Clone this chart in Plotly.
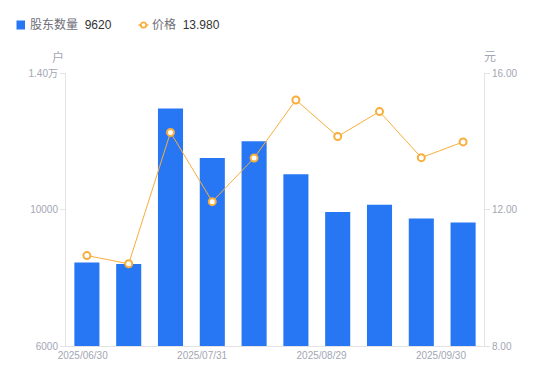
import plotly.graph_objects as go

# ---- data ----
dates = ["2025/06/30", "2025/07/10", "2025/07/20", "2025/07/31", "2025/08/10",
         "2025/08/20", "2025/08/29", "2025/09/10", "2025/09/19", "2025/09/30"]
holders = [8450, 8400, 12960, 11510, 12000, 11030, 9930, 10140, 9735, 9620]
prices = [10.65, 10.41, 14.26, 12.23, 13.51, 15.21, 14.14, 14.87, 13.52, 13.98]
shown_date_labels = ["2025/06/30", "2025/07/31", "2025/08/29", "2025/09/30"]
left_ticks = [6000, 10000, 14000]
left_ticktext = ["6000", "10000", "1.40万"]
right_ticks = [8, 12, 16]
series_names = ["股东数量", "价格"]

idx = list(range(len(dates)))
n = len(dates)
label_pos = [-0.1 + k * (n - 1 - 0.43) / 3 for k in range(len(shown_date_labels))]

W, H = 550, 381
ML, MR, MT, MB = 66, 66, 73, 35
PW, PH = W - ML - MR, H - MT - MB


def px(xp):
    return (xp - ML) / PW


def py(yp):
    return (H - MB - yp) / PH


BLUE = "#2777f5"
ORANGE = "#f8ae3c"
TICK = "#a3a6b4"
AXIS = "#e3e3e6"
FONT = "Liberation Sans, Noto Sans CJK SC, sans-serif"

fig = go.Figure()
fig.add_trace(go.Bar(
    x=idx, y=holders, width=0.6,
    marker=dict(color=BLUE, line=dict(width=0)),
    name=series_names[0], yaxis="y",
))
fig.add_trace(go.Scatter(
    x=idx, y=prices, mode="lines+markers",
    line=dict(color=ORANGE, width=1),
    marker=dict(symbol="circle", size=7, color="white",
                line=dict(color=ORANGE, width=2)),
    name=series_names[1], yaxis="y2",
))

legend_y = 25
shapes = [
    # bar legend swatch
    dict(type="rect", xref="paper", yref="paper",
         x0=px(16.5), x1=px(25), y0=py(legend_y - 4.5), y1=py(legend_y + 4.5),
         fillcolor=BLUE, line=dict(width=0)),
    # line legend glyph
    dict(type="line", xref="paper", yref="paper",
         x0=px(138.5), x1=px(148.5), y0=py(legend_y), y1=py(legend_y),
         line=dict(color=ORANGE, width=1.5)),
    dict(type="circle", xref="paper", yref="paper",
         x0=px(140.8), x1=px(146.2), y0=py(legend_y - 2.7), y1=py(legend_y + 2.7),
         fillcolor="white", line=dict(color=ORANGE, width=1.8)),
]

annotations = [
    dict(text=f"{series_names[0]}  <span style='color:#333'>{holders[-1]}</span>",
         xref="paper", yref="paper", x=px(28), y=py(legend_y),
         xanchor="left", yanchor="middle", showarrow=False,
         font=dict(size=12, color="#6e6e78")),
    dict(text=f"{series_names[1]}  <span style='color:#333'>{prices[-1]:.3f}</span>",
         xref="paper", yref="paper", x=px(150), y=py(legend_y),
         xanchor="left", yanchor="middle", showarrow=False,
         font=dict(size=12, color="#6e6e78")),
    dict(text="户", xref="paper", yref="paper", x=px(58), y=py(57),
         xanchor="center", yanchor="middle", showarrow=False,
         font=dict(size=12, color=TICK)),
    dict(text="元", xref="paper", yref="paper", x=px(490), y=py(57),
         xanchor="center", yanchor="middle", showarrow=False,
         font=dict(size=12, color=TICK)),
]

fig.update_layout(
    width=W, height=H,
    margin=dict(l=ML, r=MR, t=MT, b=MB),
    paper_bgcolor="white", plot_bgcolor="white",
    font=dict(family=FONT, size=10, color=TICK),
    showlegend=False,
    bargap=0.4,
    xaxis=dict(range=[-0.5, n - 0.5], tickvals=label_pos, ticktext=shown_date_labels,
               showline=True, linecolor=AXIS, linewidth=1, ticks="",
               showgrid=False, zeroline=False, tickfont=dict(size=10, color=TICK),
               automargin=False),
    yaxis=dict(range=[6000, 14000], tickvals=left_ticks, ticktext=left_ticktext,
               showline=True, linecolor=AXIS, linewidth=1, ticks="outside",
               ticklen=5, tickcolor=AXIS, showgrid=False, zeroline=False,
               tickfont=dict(size=10, color=TICK), automargin=False),
    yaxis2=dict(range=[8, 16], tickvals=right_ticks,
                ticktext=[f"{v:.2f}" for v in right_ticks],
                overlaying="y", side="right",
                showline=True, linecolor=AXIS, linewidth=1, ticks="outside",
                ticklen=5, tickcolor=AXIS, showgrid=False, zeroline=False,
                tickfont=dict(size=10, color=TICK), automargin=False),
    shapes=shapes,
    annotations=annotations,
)

fig.write_html("out.html", config={"displayModeBar": False},
               post_script="document.body.style.margin='0';")
